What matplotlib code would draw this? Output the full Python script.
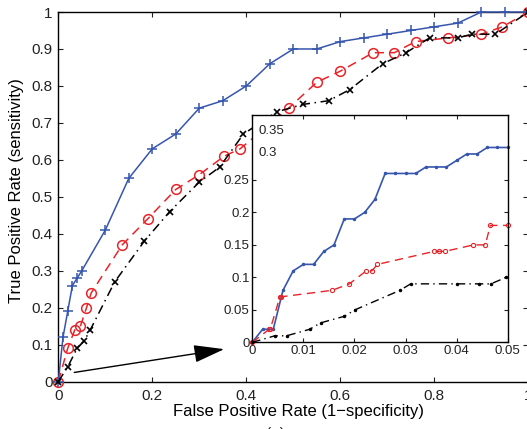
import numpy as np
import matplotlib
matplotlib.use('Agg')
import matplotlib.pyplot as plt

plt.rcParams.update({
    'font.family': ['Liberation Sans', 'DejaVu Sans'],
    'font.size': 11,
    'axes.linewidth': 1.0,
    'xtick.direction': 'in',
    'ytick.direction': 'in',
    'xtick.major.size': 3.5,
    'ytick.major.size': 3.5,
    'xtick.top': True,
    'ytick.right': True,
    'text.color': '#222',
    'xtick.color': '#222',
    'ytick.color': '#222',
})

BLUE = '#3656ad'
RED = '#e8242a'

# ---- main ROC curves ----
blue_fpr = [0, 0.01, 0.02, 0.03, 0.04, 0.05, 0.10, 0.15, 0.20, 0.25, 0.30, 0.35,
            0.40, 0.45, 0.50, 0.55, 0.60, 0.65, 0.70, 0.75, 0.80, 0.85, 0.90,
            0.95, 1.0]
blue_tpr = [0, 0.12, 0.19, 0.26, 0.28, 0.30, 0.41, 0.55, 0.63, 0.67, 0.74, 0.76,
            0.80, 0.86, 0.90, 0.90, 0.92, 0.93, 0.94, 0.95, 0.96, 0.97, 1.0,
            1.0, 1.0]

red_fpr = [0, 0.02, 0.035, 0.047, 0.06, 0.07, 0.136, 0.19, 0.25, 0.30, 0.353,
           0.387, 0.49, 0.55, 0.60, 0.67, 0.715, 0.76, 0.83, 0.90, 0.945, 1.0]
red_tpr = [0, 0.09, 0.14, 0.15, 0.20, 0.24, 0.37, 0.44, 0.52, 0.56, 0.61,
           0.63, 0.74, 0.81, 0.84, 0.89, 0.89, 0.92, 0.93, 0.94, 0.96, 1.0]

black_fpr = [0, 0.02, 0.04, 0.055, 0.068, 0.12, 0.183, 0.237, 0.30, 0.343,
             0.394, 0.465, 0.52, 0.575, 0.62, 0.69, 0.74, 0.79, 0.85, 0.88,
             0.93, 1.0]
black_tpr = [0, 0.04, 0.09, 0.11, 0.14, 0.27, 0.38, 0.46, 0.54, 0.58,
             0.67, 0.73, 0.75, 0.76, 0.79, 0.86, 0.89, 0.93, 0.93, 0.94,
             0.94, 1.0]

# ---- zoomed inset (FPR <= 0.05) ----
blue_in_fpr = [0, 0.002, 0.0031, 0.0041, 0.006, 0.008, 0.010, 0.012, 0.014,
               0.016, 0.018, 0.020, 0.022, 0.024, 0.026, 0.028, 0.030, 0.032,
               0.034, 0.036, 0.038, 0.040, 0.042, 0.044, 0.046, 0.048, 0.050]
blue_in_tpr = [0, 0.02, 0.02, 0.02, 0.08, 0.11, 0.12, 0.12, 0.14,
               0.15, 0.19, 0.19, 0.20, 0.22, 0.26, 0.26, 0.26, 0.26,
               0.27, 0.27, 0.27, 0.28, 0.29, 0.29, 0.30, 0.30, 0.30]

red_in_fpr = [0, 0.0033, 0.0035, 0.0054, 0.0056, 0.0156, 0.019, 0.0223, 0.0234,
              0.0245, 0.0356, 0.0366, 0.0377, 0.0433, 0.0456, 0.0466, 0.050]
red_in_tpr = [0, 0.02, 0.02, 0.07, 0.07, 0.08, 0.09, 0.11, 0.11,
              0.12, 0.14, 0.14, 0.14, 0.15, 0.15, 0.18, 0.18]

black_in_fpr = [0, 0.0044, 0.0067, 0.0112, 0.0134, 0.018, 0.0201, 0.0289,
                0.031, 0.040, 0.0444, 0.0467, 0.0497]
black_in_tpr = [0, 0.01, 0.01, 0.02, 0.03, 0.04, 0.05, 0.08,
                0.09, 0.09, 0.09, 0.09, 0.10]

main_ticks_x = [0, 0.2, 0.4, 0.6, 0.8, 1.0]
main_labels_x = ['0', '0.2', '0.4', '0.6', '0.8', '1']
main_ticks_y = [0, 0.1, 0.2, 0.3, 0.4, 0.5, 0.6, 0.7, 0.8, 0.9, 1.0]
main_labels_y = ['0', '0.1', '0.2', '0.3', '0.4', '0.5', '0.6', '0.7', '0.8', '0.9', '1']

inset_ticks_x = [0, 0.01, 0.02, 0.03, 0.04, 0.05]
inset_labels_x = ['0', '0.01', '0.02', '0.03', '0.04', '0.05']
inset_ticks_y = [0, 0.05, 0.1, 0.15, 0.2, 0.25]
inset_labels_y = ['0', '0.05', '0.1', '0.15', '0.2', '0.25']

fig = plt.figure(figsize=(5.27, 4.29), dpi=100)
ax = fig.add_axes([0.1106, 0.1103, 0.8919, 0.8617])

ax.plot(blue_fpr, blue_tpr, '-', color=BLUE, lw=1.1, marker='+', ms=7,
        mew=1.1, clip_on=False, zorder=4)
ax.plot(red_fpr, red_tpr, '--', color=RED, lw=1.1, dashes=(6, 4), marker='o',
        ms=7, mfc='none', mew=1.1, clip_on=False, zorder=3)
ax.plot(black_fpr, black_tpr, '-.', color='k', lw=1.1, dashes=(6, 3, 1, 3),
        marker='x', ms=5, mew=1.2, clip_on=False, zorder=5)

ax.set_xlim(0, 1)
ax.set_ylim(0, 1)
ax.set_xticks(main_ticks_x)
ax.set_xticklabels(main_labels_x)
ax.set_yticks(main_ticks_y)
ax.set_yticklabels(main_labels_y)
ax.tick_params(axis='x', pad=5)
ax.tick_params(axis='y', pad=4)
ax.set_xlabel('False Positive Rate (1\u2212specificity)', fontsize=12, va='center')
ax.xaxis.set_label_coords(0.512, -0.080)
ax.set_ylabel('True Positive Rate (sensitivity)', fontsize=12, va='center')
ax.yaxis.set_label_coords(-0.088, 0.516)

ax.annotate('', xy=(0.353, 0.088), xytext=(0.034, 0.025),
            arrowprops=dict(arrowstyle='-|>,head_length=1.9,head_width=0.55',
                            mutation_scale=10, color='k', lw=1.0,
                            shrinkA=0, shrinkB=0))

# inset
axin = fig.add_axes([0.4788, 0.2021, 0.4846, 0.5298])
axin.plot(blue_in_fpr, blue_in_tpr, '-', color=BLUE, lw=1.2, marker='.',
          ms=3, clip_on=False)
axin.plot(red_in_fpr, red_in_tpr, '--', color=RED, lw=1.0, dashes=(6, 4),
          marker='o', ms=3, mfc='none', mew=0.8, clip_on=False)
axin.plot(black_in_fpr, black_in_tpr, '-.', color='k', lw=1.0,
          dashes=(6, 3, 1, 3), marker='.', ms=3, clip_on=False)
axin.set_xlim(0, 0.05)
axin.set_ylim(0, 0.35)
axin.set_xticks(inset_ticks_x)
axin.set_xticklabels(inset_labels_x, fontsize=9.5)
axin.set_yticks(inset_ticks_y)
axin.set_yticklabels(inset_labels_y, fontsize=9.5)
axin.tick_params(axis='both', length=3, pad=2)
axin.text(0.0013, 0.3255, '0.35', fontsize=9.5, ha='left', va='center')
axin.text(0.0013, 0.291, '0.3', fontsize=9.5, ha='left', va='center')

fig.text(0.522, 0.005, '(a)', ha='center', va='top', fontsize=11)

fig.savefig('out.png', dpi=100)
